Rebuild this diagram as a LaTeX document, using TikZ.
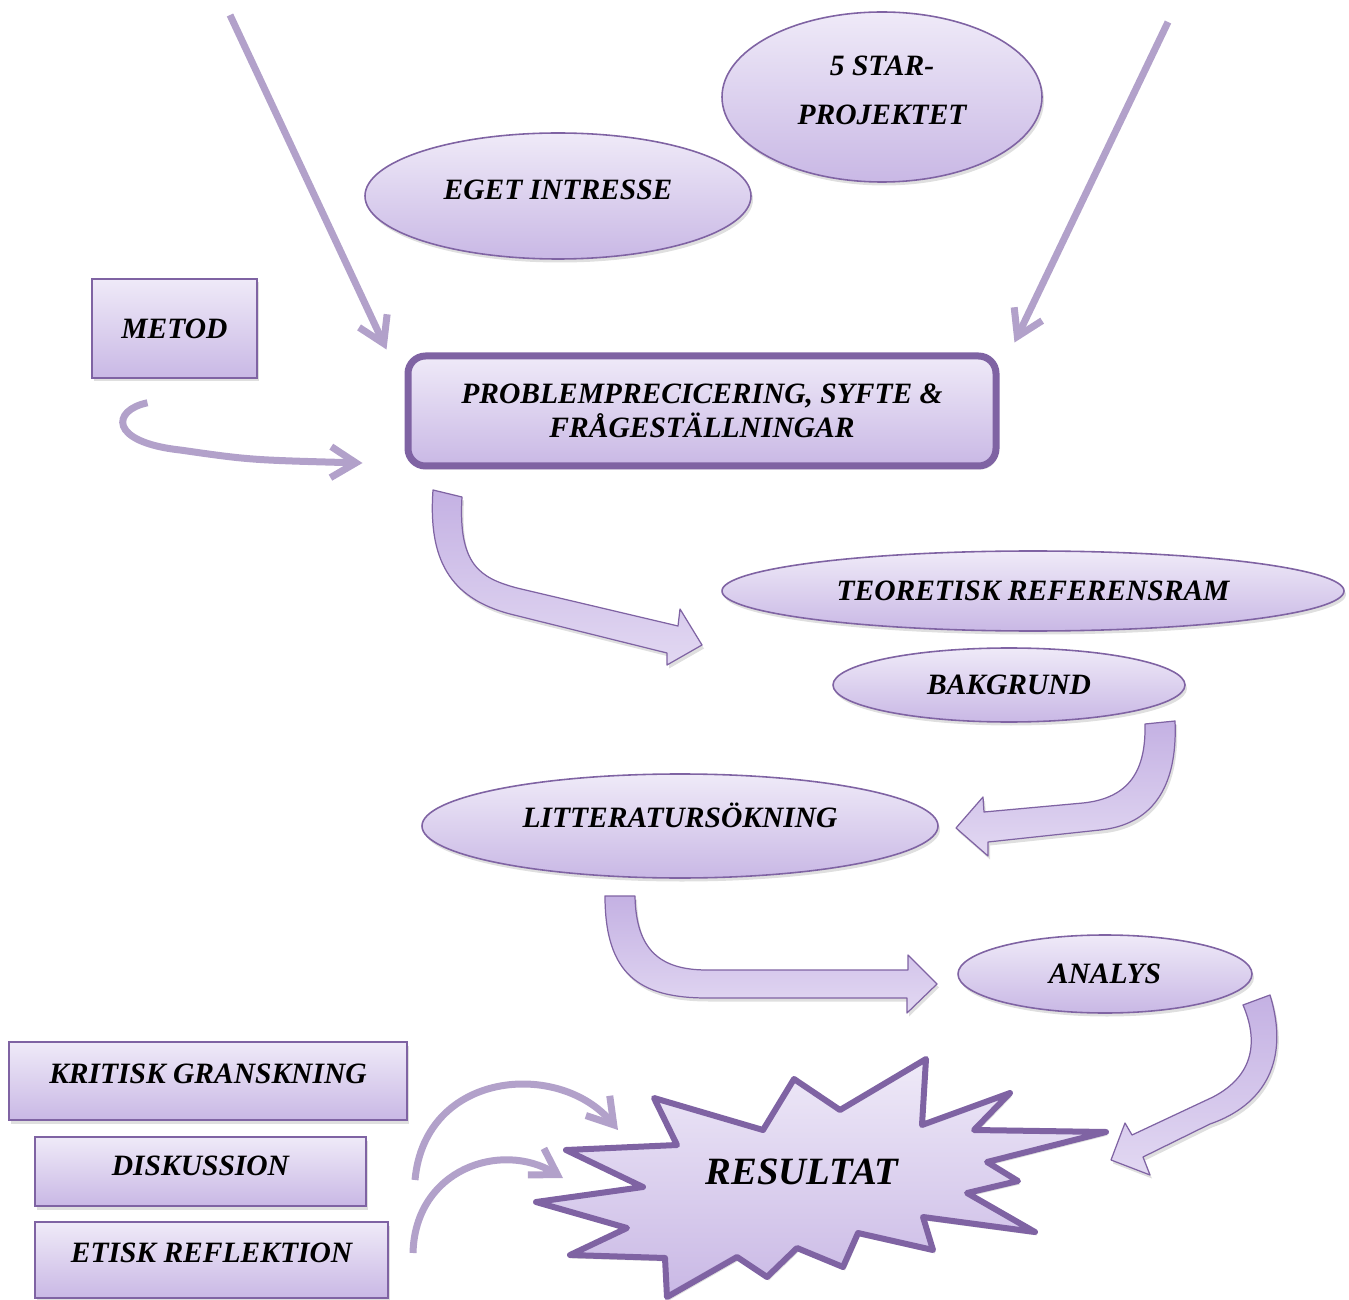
\documentclass[tikz,border=0pt]{standalone}
\usepackage{fontspec}
\setmainfont{Liberation Serif}
\usetikzlibrary{arrows.meta, calc, positioning, shapes.geometric, shadows}

\definecolor{lilaTop}{HTML}{EFEAF8}
\definecolor{lilaBot}{HTML}{C9B8E5}
\definecolor{lilaLine}{HTML}{7F63A3}
\definecolor{lilaArrow}{HTML}{B2A1CA}
\definecolor{pilTop}{HTML}{C4B1E3}
\definecolor{pilBot}{HTML}{E2D8F2}
\newcommand{\pxu}{0.02cm}
\newcommand{\rubrik}{\fontsize{16.8}{19}\selectfont\bfseries\itshape}

\begin{document}
\begin{tikzpicture}[x=0.02cm, y=-0.02cm,
    schatten/.style={drop shadow={opacity=0.25, shadow xshift=0.04cm, shadow yshift=-0.07cm}},
    ovalnode/.style={ellipse, draw=lilaLine, line width=0.9pt, top color=lilaTop, bottom color=lilaBot, inner sep=0pt, schatten, font=\rubrik},
    boxnode/.style={rectangle, draw=lilaLine, line width=0.9pt, top color=lilaTop, bottom color=lilaBot, inner sep=0pt, schatten, font=\rubrik},
    thinarrow/.style={draw=lilaArrow, line width=0.14cm, -{Straight Barb[length=0.5cm,width=0.62cm]}},
    blockarrow/.style={draw=lilaLine, line width=0.7pt, line join=round, top color=pilTop, bottom color=pilBot, schatten}]
    \useasboundingbox (0,0) rectangle (1349,1300);

    \node[ovalnode, minimum width=320*\pxu, minimum height=170*\pxu, align=center, text depth=8pt] (star) at (882,97) {5 STAR-\\[9pt]PROJEKTET};
    \node[ovalnode, minimum width=386*\pxu, minimum height=126*\pxu, text depth=7pt] (eget) at (558,196) {EGET INTRESSE};
    \node[boxnode, minimum width=165*\pxu, minimum height=99*\pxu] (metod) at (174.5,328.5) {METOD};
    \node[boxnode, line width=0.14cm, rounded corners=0.35cm, minimum width=588*\pxu, minimum height=110*\pxu, align=center] (prob) at (702,411) {PROBLEMPRECICERING, SYFTE \&\\FRÅGESTÄLLNINGAR};

    \node[ovalnode, minimum width=622*\pxu, minimum height=80*\pxu] (teo) at (1033,591) {TEORETISK REFERENSRAM};
    \node[ovalnode, minimum width=352*\pxu, minimum height=74*\pxu] (bak) at (1009,685) {BAKGRUND};
    \node[ovalnode, minimum width=516*\pxu, minimum height=104*\pxu, text depth=12pt] (lit) at (680,826) {LITTERATURSÖKNING};
    \node[ovalnode, minimum width=294*\pxu, minimum height=78*\pxu] (ana) at (1105,974) {ANALYS};

    \node[boxnode, minimum width=398*\pxu, minimum height=78*\pxu, text depth=8pt] (krit) at (208,1081) {KRITISK GRANSKNING};
    \node[boxnode, minimum width=331*\pxu, minimum height=69*\pxu, text depth=7pt] (disk) at (200.5,1171.5) {DISKUSSION};
    \node[boxnode, minimum width=353*\pxu, minimum height=76*\pxu, text depth=8pt] (etik) at (211.5,1260) {ETISK REFLEKTION};

    \draw[draw=lilaLine, line width=0.12cm, line join=round, top color=lilaTop, bottom color=lilaBot, schatten]
        (1106,1132) -- (987,1162) -- (1018,1181) -- (967,1193) -- (1035,1232) -- (923,1217)
        -- (933,1250) -- (858,1233) -- (843,1267) -- (797,1248) -- (767,1277) -- (737,1257)
        -- (667,1297) -- (665,1258) -- (570,1255) -- (627,1228) -- (536,1202) -- (643,1187)
        -- (566,1150) -- (677,1145) -- (654,1098) -- (763,1130) -- (794,1079) -- (840,1110)
        -- (926,1059) -- (922,1125) -- (1010,1093) -- (974,1130) -- cycle;
    \node[font=\fontsize{22}{26}\selectfont\bfseries\itshape] (res) at (802,1172) {RESULTAT};

    \coordinate (inL) at (230,15);
    \coordinate (inR) at (1168,22);
    \coordinate (fromKrit) at (415,1180);
    \coordinate (fromEtik) at (413,1253);
    \draw[thinarrow] (inL) -- ($(prob.north west)+(-18,-3)$);
    \draw[thinarrow] (inR) -- ($(prob.north east)+(15,-10)$);
    \draw[thinarrow] ($(metod.south)+(-27,24)$) .. controls (112,410) and (108,442) .. (180,450)
        .. controls (250,460) .. ($(prob.west)+(-42,52)$);
    \draw[thinarrow] (fromKrit) .. controls (425,1070) and (560,1060) .. ($(res)+(-184,-42)$);
    \draw[thinarrow] (fromEtik) .. controls (415,1170) and (500,1140) .. ($(res)+(-239,6)$);

    \draw[blockarrow] (433,490) -- (462,497) .. controls (458,565) and (480,578) .. (517,588)
        -- (678,626) -- (680,609) -- (702,645) -- (667,665) -- (667,653) -- (510,614)
        .. controls (450,598) and (428,560) .. (433,490) -- cycle;
    \draw[blockarrow] (1145,724) -- (1175,721) .. controls (1178,790) and (1150,825) .. (1100,830)
        -- (988,842) -- (988,856) -- (956,828) -- (983,797) -- (984,812) -- (1083,803)
        .. controls (1130,798) and (1146,770) .. (1145,724) -- cycle;
    \draw[blockarrow] (605,896) -- (635,896) .. controls (636,950) and (660,970) .. (707,970)
        -- (908,970) -- (908,955) -- (937,984) -- (907,1013) -- (907,998) -- (707,998)
        .. controls (640,998) and (605,975) .. (605,896) -- cycle;
    \draw[blockarrow] (1243,1005) -- (1270,995) .. controls (1290,1060) and (1265,1105) .. (1210,1124)
        -- (1143,1157) -- (1150,1175) -- (1111,1160) -- (1125,1123) -- (1132,1135) -- (1213,1097)
        .. controls (1255,1075) and (1258,1040) .. (1243,1005) -- cycle;
\end{tikzpicture}
\end{document}
